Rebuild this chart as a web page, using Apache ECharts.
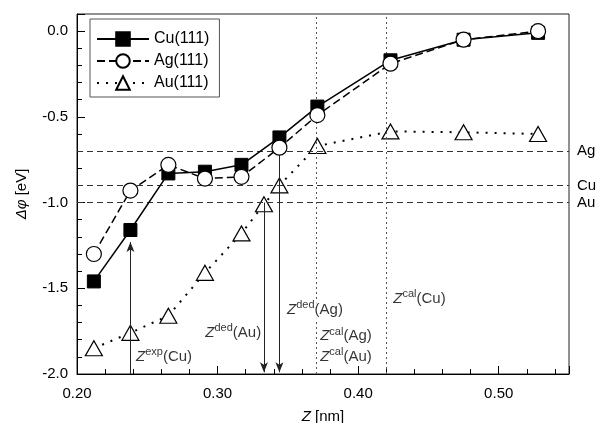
<!DOCTYPE html>
<html>
<head>
<meta charset="utf-8">
<script src="https://cdn.jsdelivr.net/npm/echarts@6/dist/echarts.min.js"></script>
<style>
html,body{margin:0;padding:0;background:#fff;}
#main{width:596px;height:423px;}
</style>
</head>
<body>
<div id="main"></div>
<script>
// 各金属表面的功函数变化 (Z [nm] -> Δφ [eV])
var zCu = [0.212, 0.238, 0.265, 0.291, 0.317, 0.344, 0.371, 0.423, 0.475, 0.528];
var phiCu = [-1.46, -1.16, -0.83, -0.82, -0.78, -0.62, -0.44, -0.17, -0.05, -0.01];
var zAg = [0.212, 0.238, 0.265, 0.291, 0.317, 0.344, 0.371, 0.423, 0.475, 0.528];
var phiAg = [-1.30, -0.93, -0.78, -0.86, -0.85, -0.68, -0.49, -0.19, -0.05, 0.00];
var zAu = [0.212, 0.238, 0.265, 0.291, 0.317, 0.333, 0.344, 0.371, 0.423, 0.475, 0.528];
var phiAu = [-1.85, -1.76, -1.66, -1.41, -1.18, -1.01, -0.90, -0.67, -0.585, -0.59, -0.60];
// 参考水平线
var refNames = ['Ag', 'Cu', 'Au'];
var refPhi = [-0.70, -0.90, -1.00];
// 竖线 Z 值
var zCal = [0.371, 0.423];
var zExpCu = 0.238, zDedAu = 0.333, zDedAg = 0.344;
// 刻度标签
var xTicks = [0.20, 0.30, 0.40, 0.50];
var yTicks = [-2.0, -1.5, -1.0, -0.5, 0.0];

var font = 'Liberation Sans, Arial, sans-serif';
var fs = 15;

function pairs(xs, ys){
	var out = [];
	for (var i = 0; i < xs.length; i++) out.push([xs[i], ys[i]]);
	return out;
}
function inList(v, list){
	for (var i = 0; i < list.length; i++) if (Math.abs(v - list[i]) < 1e-6) return true;
	return false;
}

var richZ = {
	i: {fontFamily: font, fontSize: fs, fontStyle: 'italic', lineHeight: 20, color: '#000'},
	s: {fontFamily: font, fontSize: 11, lineHeight: 20, verticalAlign: 'top', color: '#000'},
	n: {fontFamily: font, fontSize: fs, lineHeight: 20, color: '#000'}
};

// 注释文字
var notes = [
	{z: 0.242, phi: -1.90, sup: 'exp', tail: '(Cu)', side: 'right', bg: false},
	{z: 0.331, phi: -1.76, sup: 'ded', tail: '(Au)', side: 'left', bg: false},
	{z: 0.348, phi: -1.625, sup: 'ded', tail: '(Ag)', side: 'right', bg: true},
	{z: 0.373, phi: -1.78, sup: 'cal', tail: '(Ag)', side: 'right', bg: false},
	{z: 0.373, phi: -1.90, sup: 'cal', tail: '(Au)', side: 'right', bg: false},
	{z: 0.425, phi: -1.56, sup: 'cal', tail: '(Cu)', side: 'right', bg: false}
];
var noteData = notes.map(function(n){
	return {
		value: [n.z, n.phi],
		label: {
			show: true,
			position: n.side,
			distance: 0,
			formatter: '{i|Z}{s|' + n.sup + '}{n|' + n.tail + '}',
			rich: richZ,
			backgroundColor: n.bg ? '#fff' : 'transparent',
			padding: n.bg ? [0, 2] : 0
		}
	};
});

var myChart = echarts.init(document.getElementById('main'));
var axisColor = '#000';
var option = {
	backgroundColor: '#fff',
	animation: false,
	grid: {
		left: 77, right: 27, top: 14, bottom: 49,
		outerBoundsMode: 'none',
		show: true, borderColor: '#222', borderWidth: 1
	},
	legend: {
		data: ['Cu(111)', 'Ag(111)', 'Au(111)'],
		orient: 'vertical',
		left: 90, top: 19,
		itemWidth: 52, itemHeight: 17, itemGap: 6,
		padding: [12, 10, 6, 6],
		borderColor: '#555', borderWidth: 1,
		backgroundColor: '#fff',
		textStyle: {fontFamily: font, fontSize: 16, color: '#000'}
	},
	xAxis: [
		{
			type: 'value', min: 0.2, max: 0.55, interval: 0.02,
			name: '{i|Z} [nm]', nameLocation: 'middle', nameGap: 35,
			nameTextStyle: {fontFamily: font, fontSize: fs, color: '#000',
				rich: {i: {fontFamily: font, fontSize: fs, fontStyle: 'italic', color: '#000'}}},
			axisLine: {show: true, onZero: false, lineStyle: {color: axisColor}},
			axisTick: {show: true, inside: true, length: 5, lineStyle: {color: axisColor}},
			axisLabel: {
				interval: 0, margin: 12, fontFamily: font, fontSize: fs, color: '#000',
				formatter: function(v){ return inList(v, xTicks) ? v.toFixed(2) : ''; }
			},
			splitLine: {show: false}
		},
		{
			type: 'value', min: 0.2, max: 0.55, interval: 0.1, position: 'bottom',
			axisLine: {show: false, onZero: false},
			axisTick: {show: true, inside: true, length: 8, lineStyle: {color: axisColor}},
			axisLabel: {show: false},
			splitLine: {show: false}
		}
	],
	yAxis: [
		{
			type: 'value', min: -2.0, max: 0.1, interval: 0.1,
			name: '{i|Δφ} [eV]', nameLocation: 'middle', nameGap: 48, nameRotate: 90,
			nameTextStyle: {fontFamily: font, fontSize: fs, color: '#000',
				rich: {i: {fontFamily: font, fontSize: fs, fontStyle: 'italic', color: '#000'}}},
			axisLine: {show: true, onZero: false, lineStyle: {color: axisColor}},
			axisTick: {show: true, inside: true, length: 5, lineStyle: {color: axisColor}},
			axisLabel: {
				interval: 0, margin: 9, fontFamily: font, fontSize: fs, color: '#000',
				formatter: function(v){ return inList(v, yTicks) ? v.toFixed(1) : ''; }
			},
			splitLine: {show: false}
		},
		{
			type: 'value', min: -2.0, max: 0.1, interval: 0.5, position: 'left', offset: 0,
			axisLine: {show: false, onZero: false},
			axisTick: {show: true, inside: true, length: 8, lineStyle: {color: axisColor}},
			axisLabel: {show: false},
			splitLine: {show: false}
		}
	],
	series: [
		{
			// 参考线
			type: 'line', data: [], z: 1, silent: true,
			markLine: {
				silent: true, symbol: 'none', animation: false,
				lineStyle: {color: '#333', width: 1, type: [6, 4]},
				label: {show: true, position: 'end', distance: 8, fontFamily: font, fontSize: fs, color: '#000'},
				data: refPhi.map(function(v, i){ return {yAxis: v, name: refNames[i], label: {formatter: refNames[i]}}; })
					.concat(zCal.map(function(v){
						return {xAxis: v, label: {show: false}, lineStyle: {type: [2, 3], color: '#555', width: 1}};
					}))
			}
		},
		{
			// 箭头
			type: 'line', data: [], z: 2, silent: true,
			markLine: {
				silent: true, animation: false,
				symbol: ['none', 'arrow'], symbolSize: [6, 10],
				lineStyle: {color: '#222', width: 1, type: 'solid'},
				label: {show: false},
				data: [
					[{coord: [zExpCu, -2.0]}, {coord: [zExpCu, -1.23]}],
					[{coord: [zDedAu, -1.0]}, {coord: [zDedAu, -1.99]}],
					[{coord: [zDedAg, -0.7]}, {coord: [zDedAg, -1.99]}]
				]
			}
		},
		{
			name: 'Cu(111)', type: 'line', z: 5,
			data: pairs(zCu, phiCu),
			symbol: 'rect', symbolSize: 13,
			lineStyle: {color: '#000', width: 1.5, type: 'solid'},
			itemStyle: {color: '#000', borderColor: '#000', borderWidth: 1}
		},
		{
			name: 'Ag(111)', type: 'line', z: 6,
			data: pairs(zAg, phiAg),
			symbol: 'circle', symbolSize: 15,
			lineStyle: {color: '#000', width: 1.5, type: [8, 4]},
			itemStyle: {color: '#fff', borderColor: '#000', borderWidth: 1.2}
		},
		{
			name: 'Au(111)', type: 'line', z: 4,
			data: pairs(zAu, phiAu),
			symbol: 'triangle', symbolSize: [17, 15],
			lineStyle: {color: '#000', width: 2, type: [2, 7]},
			itemStyle: {color: '#fff', borderColor: '#000', borderWidth: 1.2}
		},
		{
			type: 'scatter', z: 8, silent: true,
			symbolSize: 0,
			data: noteData
		}
	]
};
myChart.setOption(option);
</script>
</body>
</html>
